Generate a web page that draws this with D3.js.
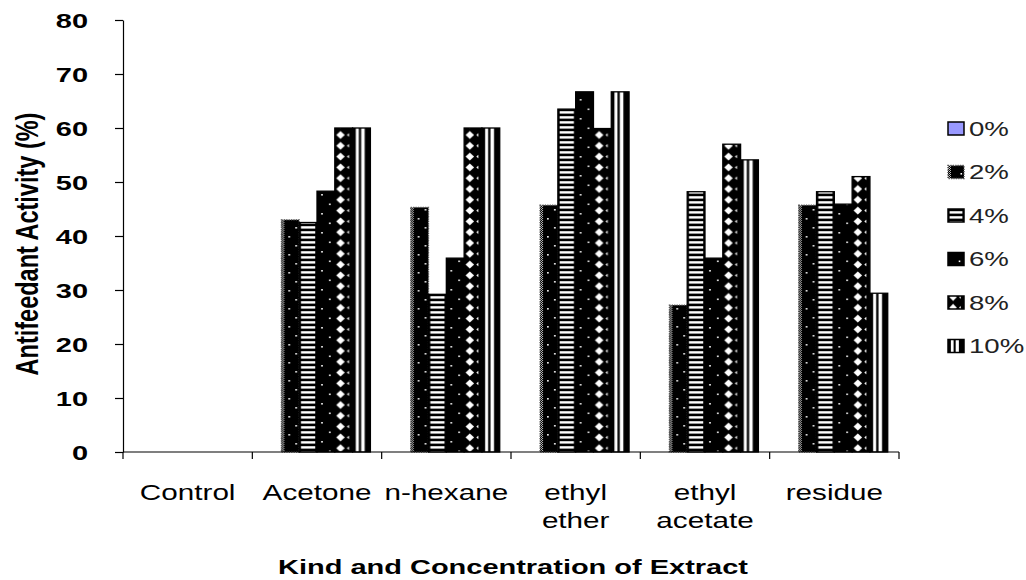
<!DOCTYPE html>
<html>
<head>
<meta charset="utf-8">
<script src="https://cdn.jsdelivr.net/npm/d3@7"></script>
<style>
  body { margin: 0; background: #fff; }
  text { font-family: "Liberation Sans", Arial, sans-serif; }
</style>
</head>
<body>
<svg id="chart" width="1026" height="580"></svg>
<script>
// Extract types and the lines used for their axis labels
const categories = ["Control", "Acetone", "n-hexane", "ethyl ether", "ethyl acetate", "residue"];
const categoryLabels = [["Control"], ["Acetone"], ["n-hexane"], ["ethyl", "ether"], ["ethyl", "acetate"], ["residue"]];

// Concentrations (series) and antifeedant activity (%) per extract
const seriesNames = ["0%", "2%", "4%", "6%", "8%", "10%"];
const pct0  = [0, 0, 0, 0, 0, 0];
const pct2  = [0, 43, 45.3, 45.7, 27.2, 45.7];
const pct4  = [0, 42.5, 29.2, 63.5, 48.2, 48.2];
const pct6  = [0, 48.3, 35.9, 66.7, 35.9, 45.9];
const pct8  = [0, 60, 60, 59.9, 57, 51];
const pct10 = [0, 60, 60, 66.7, 54.1, 29.4];
const seriesValues = [pct0, pct2, pct4, pct6, pct8, pct10];

const yTicks = [0, 10, 20, 30, 40, 50, 60, 70, 80];

const plot = { left: 123, right: 899, top: 20, bottom: 452 };
const SX = 1.38; // horizontal widening applied to all lettering

const svg = d3.select("#chart");
const defs = svg.append("defs");

const x = d3.scaleBand().domain(categories).range([plot.left, plot.right]).paddingInner(0).paddingOuter(0);
const xs = d3.scaleBand().domain(seriesNames).range([0, x.bandwidth()]).paddingInner(0).paddingOuter(0.633);
const y = d3.scaleLinear().domain([0, 80]).range([plot.bottom, plot.top]);

// ---- fill patterns, one painter per concentration ----
const painters = {
  "0%": { h: 10, draw: (p, w, h) => {
    p.append("rect").attr("width", w).attr("height", h).attr("fill", "#9999ff");
  }},
  "2%": { h: 18, draw: (p, w, h) => {
    p.append("rect").attr("width", w).attr("height", h).attr("fill", "#000");
    [[0.44, 2], [0.83, 11]].forEach(([fx, fy]) =>
      p.append("rect").attr("x", fx * w - 0.8).attr("y", fy).attr("width", 1.6).attr("height", 1.6).attr("fill", "#fff"));
    // stippled left edge
    for (let r = 0; r < h; r += 1) {
      for (let c = (r % 2); c < 3; c += 2) {
        p.append("rect").attr("x", c).attr("y", r).attr("width", 1).attr("height", 1).attr("fill", "#bbb");
      }
    }
  }},
  "4%": { h: 5, draw: (p, w, h) => {
    p.append("rect").attr("width", w).attr("height", h).attr("fill", "#000");
    p.append("rect").attr("x", 0.1 * w).attr("y", 1.2).attr("width", 0.8 * w).attr("height", 2.4).attr("fill", "#fff");
  }},
  "6%": { h: 19, draw: (p, w, h) => {
    p.append("rect").attr("width", w).attr("height", h).attr("fill", "#000");
    [[0.28, 4], [0.72, 13.5]].forEach(([fx, fy]) =>
      p.append("rect").attr("x", fx * w - 0.8).attr("y", fy).attr("width", 1.6).attr("height", 1.6).attr("fill", "#fff"));
  }},
  "8%": { h: 10.8, draw: (p, w, h) => {
    p.append("rect").attr("width", w).attr("height", h).attr("fill", "#000");
    const cx = 0.32 * w, cy = h / 2, rx = 0.24 * w, ry = 4;
    p.append("path").attr("d", `M${cx - rx},${cy}L${cx},${cy - ry}L${cx + rx},${cy}L${cx},${cy + ry}Z`).attr("fill", "#fff");
    p.append("path").attr("d", `M${0.68 * w},${cy}L${0.8 * w},${cy - 1.8}L${0.8 * w},${cy + 1.8}Z`).attr("fill", "#fff");
  }},
  "10%": { h: 10, draw: (p, w, h) => {
    p.append("rect").attr("width", w).attr("height", h).attr("fill", "#000");
    [[0.18, 0.35], [0.48, 0.68]].forEach(([a, b]) =>
      p.append("rect").attr("x", a * w).attr("width", (b - a) * w).attr("height", h).attr("fill", "#fff"));
  }}
};

function makePattern(id, key, x0, w) {
  const spec = painters[key];
  const p = defs.append("pattern")
    .attr("id", id)
    .attr("patternUnits", "userSpaceOnUse")
    .attr("x", x0).attr("y", 0)
    .attr("width", w).attr("height", spec.h);
  spec.draw(p, w, spec.h);
  return `url(#${id})`;
}

const barFill = {};
seriesNames.forEach((s, i) => { barFill[s] = makePattern(`bar-${i}`, s, xs(s), xs.bandwidth()); });

// ---- bars ----
const rows = categories.map((c, ci) => ({
  cat: c,
  bars: seriesNames.map((s, si) => ({ s, v: seriesValues[si][ci] }))
}));

const groups = svg.append("g").selectAll("g").data(rows).join("g")
  .attr("transform", d => `translate(${x(d.cat)},0)`);

groups.selectAll("rect").data(d => d.bars.filter(b => b.v > 0)).join("rect")
  .attr("x", b => xs(b.s))
  .attr("y", b => y(b.v))
  .attr("width", xs.bandwidth())
  .attr("height", b => y(0) - y(b.v))
  .attr("fill", b => barFill[b.s])
  .attr("stroke", b => b.s === "2%" ? "#555" : "#000")
  .attr("stroke-dasharray", b => b.s === "2%" ? "1.2,1.2" : null)
  .attr("stroke-width", 1.3);

// ---- y axis ----
const yAxis = svg.append("g")
  .attr("transform", `translate(${plot.left},0)`)
  .call(d3.axisLeft(y).tickValues(yTicks).tickSize(8).tickSizeOuter(0).tickFormat(d3.format("d")));
yAxis.select(".domain").attr("stroke", "#000").attr("stroke-width", 1.2);
yAxis.selectAll(".tick line").attr("stroke", "#000").attr("stroke-width", 1.2);
yAxis.selectAll(".tick text")
  .attr("x", null).attr("dy", "0.36em")
  .attr("transform", `translate(-35,0) scale(${SX},1)`)
  .attr("text-anchor", "end")
  .attr("font-size", 21).attr("font-weight", "bold")
  .attr("font-family", "Liberation Sans, Arial, sans-serif")
  .attr("fill", "#000");

// ---- x axis: baseline and ticks between categories ----
const xAxis = svg.append("g");
xAxis.append("line")
  .attr("x1", plot.left).attr("x2", plot.right)
  .attr("y1", y(0)).attr("y2", y(0))
  .attr("stroke", "#000").attr("stroke-width", 1.2);
const bounds = categories.map(c => x(c)).concat([x(categories[categories.length - 1]) + x.bandwidth()]);
xAxis.selectAll("line.tk").data(bounds).join("line").attr("class", "tk")
  .attr("x1", d => d).attr("x2", d => d)
  .attr("y1", y(0)).attr("y2", y(0) + 7)
  .attr("stroke", "#000").attr("stroke-width", 1.2);

const catText = xAxis.selectAll("text.cat").data(categories).join("text").attr("class", "cat")
  .attr("transform", c => `translate(${x(c) + x.bandwidth() / 2},500) scale(${SX},1)`)
  .attr("text-anchor", "middle")
  .attr("font-size", 21.5)
  .attr("fill", "#000");
catText.each(function (c, i) {
  d3.select(this).selectAll("tspan").data(categoryLabels[i]).join("tspan")
    .attr("x", 0).attr("y", (d, j) => j * 28).text(d => d);
});

// ---- axis titles ----
svg.append("text")
  .attr("transform", `translate(${(plot.left + plot.right) / 2 + 2},574) scale(${SX},1)`)
  .attr("text-anchor", "middle")
  .attr("font-size", 21).attr("font-weight", "bold")
  .text("Kind and Concentration of Extract");

svg.append("text")
  .attr("transform", `translate(38,244) scale(1.3,1) rotate(-90)`)
  .attr("text-anchor", "middle")
  .attr("font-size", 23.5).attr("font-weight", "bold")
  .text("Antifeedant Activity (%)");

// ---- legend ----
const legend = svg.append("g");
const legX = 948, legY0 = 128.5, legStep = 43.5;
seriesNames.forEach((s, i) => {
  const cy = legY0 + i * legStep;
  const fill = makePattern(`leg-${i}`, s, legX, 16);
  legend.append("rect")
    .attr("x", legX).attr("y", cy - 6.5).attr("width", 16).attr("height", 13)
    .attr("fill", fill)
    .attr("stroke", s === "2%" ? "#555" : "#000")
    .attr("stroke-dasharray", s === "2%" ? "1.2,1.2" : null)
    .attr("stroke-width", 1.5);
  legend.append("text")
    .attr("transform", `translate(${legX + 21},${cy}) scale(${SX},1)`)
    .attr("dy", "0.36em")
    .attr("font-size", 20)
    .attr("fill", "#222")
    .text(s);
});
</script>
</body>
</html>
